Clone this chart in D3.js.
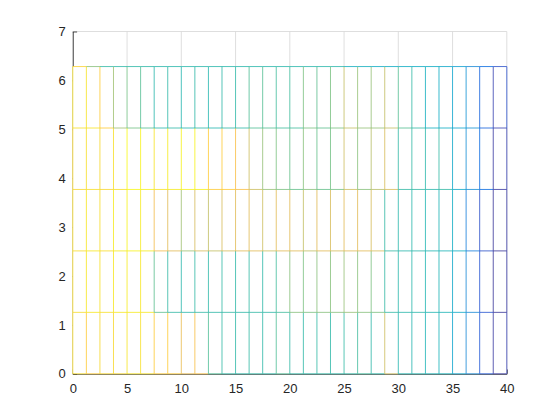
<!DOCTYPE html>
<html>
<head>
<meta charset="utf-8">
<script src="https://cdn.jsdelivr.net/npm/d3@7"></script>
<style>
  html, body { margin: 0; padding: 0; background: #ffffff; }
  svg { display: block; }
</style>
</head>
<body>
<svg id="chart" width="560" height="420"></svg>
<script>
// ---- data ----
const xValues = [0, 1.25, 2.5, 3.75, 5, 6.25, 7.5, 8.75, 10, 11.25, 12.5, 13.75, 15, 16.25, 17.5, 18.75,
  20, 21.25, 22.5, 23.75, 25, 26.25, 27.5, 28.75, 30, 31.25, 32.5, 33.75, 35, 36.25, 37.5, 38.75, 40];
const yValues = [0, 1.2566, 2.5133, 3.7699, 5.0265, 6.2832];
// vertex colour values (normalised 0..1), one row per y value
const zRow0 = [0.91, 0.86, 0.9, 0.9, 0.93, 0.92, 0.86, 0.86, 0.78, 0.82, 0.52, 0.48, 0.47, 0.48, 0.47, 0.52,
  0.48, 0.47, 0.48, 0.47, 0.48, 0.5, 0.47, 0.72, 0.45, 0.45, 0.43, 0.42, 0.34, 0.24, 0.1, 0.03, 0.05];
const zRow1 = [0.91, 0.94, 0.92, 0.94, 0.95, 0.94, 0.54, 0.48, 0.46, 0.48, 0.47, 0.48, 0.47, 0.48, 0.47, 0.5,
  0.6, 0.58, 0.6, 0.6, 0.62, 0.6, 0.58, 0.48, 0.46, 0.46, 0.44, 0.43, 0.36, 0.24, 0.09, 0.02, 0.03];
const zRow2 = [0.91, 0.94, 0.91, 0.95, 0.97, 0.95, 0.8, 0.76, 0.64, 0.74, 0.7, 0.74, 0.76, 0.76, 0.72, 0.76,
  0.76, 0.7, 0.76, 0.74, 0.76, 0.76, 0.74, 0.48, 0.46, 0.46, 0.44, 0.43, 0.38, 0.2, 0.08, 0.02, 0.03];
const zRow3 = [0.9, 0.92, 0.9, 0.92, 0.99, 0.97, 0.93, 0.95, 0.97, 0.97, 0.86, 0.86, 0.82, 0.72, 0.62, 0.58,
  0.55, 0.6, 0.55, 0.57, 0.72, 0.6, 0.68, 0.74, 0.48, 0.48, 0.46, 0.48, 0.36, 0.26, 0.14, 0.03, 0.05];
const zRow4 = [0.92, 0.93, 0.86, 0.64, 0.57, 0.53, 0.46, 0.47, 0.45, 0.47, 0.45, 0.47, 0.47, 0.52, 0.53, 0.5,
  0.5, 0.58, 0.54, 0.58, 0.7, 0.62, 0.62, 0.7, 0.53, 0.48, 0.4, 0.38, 0.34, 0.28, 0.12, 0.05, 0.08];
const zRow5 = [0.88, 0.6, 0.48, 0.47, 0.47, 0.47, 0.46, 0.46, 0.46, 0.46, 0.46, 0.46, 0.46, 0.46, 0.46, 0.46,
  0.46, 0.46, 0.46, 0.46, 0.4, 0.4, 0.38, 0.38, 0.38, 0.38, 0.38, 0.36, 0.32, 0.24, 0.14, 0.08, 0.08];
const zRows = [zRow0, zRow1, zRow2, zRow3, zRow4, zRow5];
const xTicks = [0, 5, 10, 15, 20, 25, 30, 35, 40];
const yTicks = [0, 1, 2, 3, 4, 5, 6, 7];

// parula colormap (sampled)
const parula = [
  [0.2081,0.1663,0.5292],[0.2081,0.2386,0.6771],[0.1253,0.3242,0.8303],[0.0060,0.4086,0.8828],
  [0.0629,0.4737,0.8554],[0.0793,0.5200,0.8312],[0.0488,0.5772,0.8228],[0.0239,0.6287,0.8038],
  [0.0267,0.6642,0.7607],[0.0843,0.6928,0.7062],[0.1801,0.7177,0.6424],[0.3022,0.7376,0.5712],
  [0.4420,0.7481,0.5033],[0.5709,0.7485,0.4494],[0.6834,0.7435,0.4044],[0.7858,0.7356,0.3633],
  [0.8824,0.7274,0.3217],[0.9739,0.7314,0.2666],[0.9955,0.7861,0.1967],[0.9697,0.8481,0.1475],
  [0.9598,0.9218,0.0948],[0.9763,0.9831,0.0538]
];

// ---- layout ----
const L = 72.8, R = 506.8, T = 31.5, B = 373.8;
const svg = d3.select("#chart");
const x = d3.scaleLinear().domain([0, 40]).range([L, R]);
const y = d3.scaleLinear().domain([0, 7]).range([B, T]);
const color = d3.scaleLinear()
  .domain(parula.map((d, i) => i / (parula.length - 1)))
  .range(parula.map(c => d3.rgb(c[0] * 255, c[1] * 255, c[2] * 255).toString()))
  .interpolate(d3.interpolateRgb)
  .clamp(true);

const font = "'Liberation Sans', Arial, Helvetica, sans-serif";
const textColor = "#262626";

// grid
const grid = svg.append("g").attr("stroke", "#d6d6d6").attr("stroke-width", 0.8);
grid.selectAll("line.v").data(xTicks).join("line").attr("class", "v")
  .attr("x1", d => x(d)).attr("x2", d => x(d)).attr("y1", T).attr("y2", B);
grid.selectAll("line.h").data(yTicks).join("line").attr("class", "h")
  .attr("x1", L).attr("x2", R).attr("y1", d => y(d)).attr("y2", d => y(d));

// axes
const xAxis = d3.axisBottom(x).tickValues(xTicks).tickFormat(d3.format("d"))
  .tickSizeInner(-4.3).tickSizeOuter(0).tickPadding(10);
const yAxis = d3.axisLeft(y).tickValues(yTicks).tickFormat(d3.format("d"))
  .tickSizeInner(-4.3).tickSizeOuter(0).tickPadding(7);
const gx = svg.append("g").attr("transform", `translate(0,${B})`).call(xAxis);
const gy = svg.append("g").attr("transform", `translate(${L},0)`).call(yAxis);
[gx, gy].forEach(g => {
  g.select(".domain").attr("stroke", textColor).attr("stroke-width", 0.8);
  g.selectAll(".tick line").attr("stroke", textColor).attr("stroke-width", 0.8);
  g.selectAll(".tick text").attr("fill", textColor).attr("font-family", font).attr("font-size", 13);
});

// mesh faces (white)
svg.append("rect")
  .attr("x", x(xValues[0])).attr("y", y(yValues[yValues.length - 1]))
  .attr("width", x(xValues[xValues.length - 1]) - x(xValues[0]))
  .attr("height", y(yValues[0]) - y(yValues[yValues.length - 1]))
  .attr("fill", "#ffffff");

// mesh edges
const segs = [];
zRows.forEach((row, r) => {
  for (let c = 0; c < xValues.length - 1; c++) {
    segs.push({x1: xValues[c], y1: yValues[r], x2: xValues[c + 1], y2: yValues[r], z: row[c]});
  }
  if (r < zRows.length - 1) {
    for (let c = 0; c < xValues.length; c++) {
      segs.push({x1: xValues[c], y1: yValues[r], x2: xValues[c], y2: yValues[r + 1], z: row[c]});
    }
  }
});
svg.append("g").attr("fill", "none").attr("stroke-width", 0.8).attr("stroke-linecap", "butt")
  .selectAll("line").data(segs).join("line")
  .attr("x1", d => x(d.x1)).attr("y1", d => y(d.y1))
  .attr("x2", d => x(d.x2)).attr("y2", d => y(d.y2))
  .attr("stroke", d => color(d.z));
</script>
</body>
</html>
